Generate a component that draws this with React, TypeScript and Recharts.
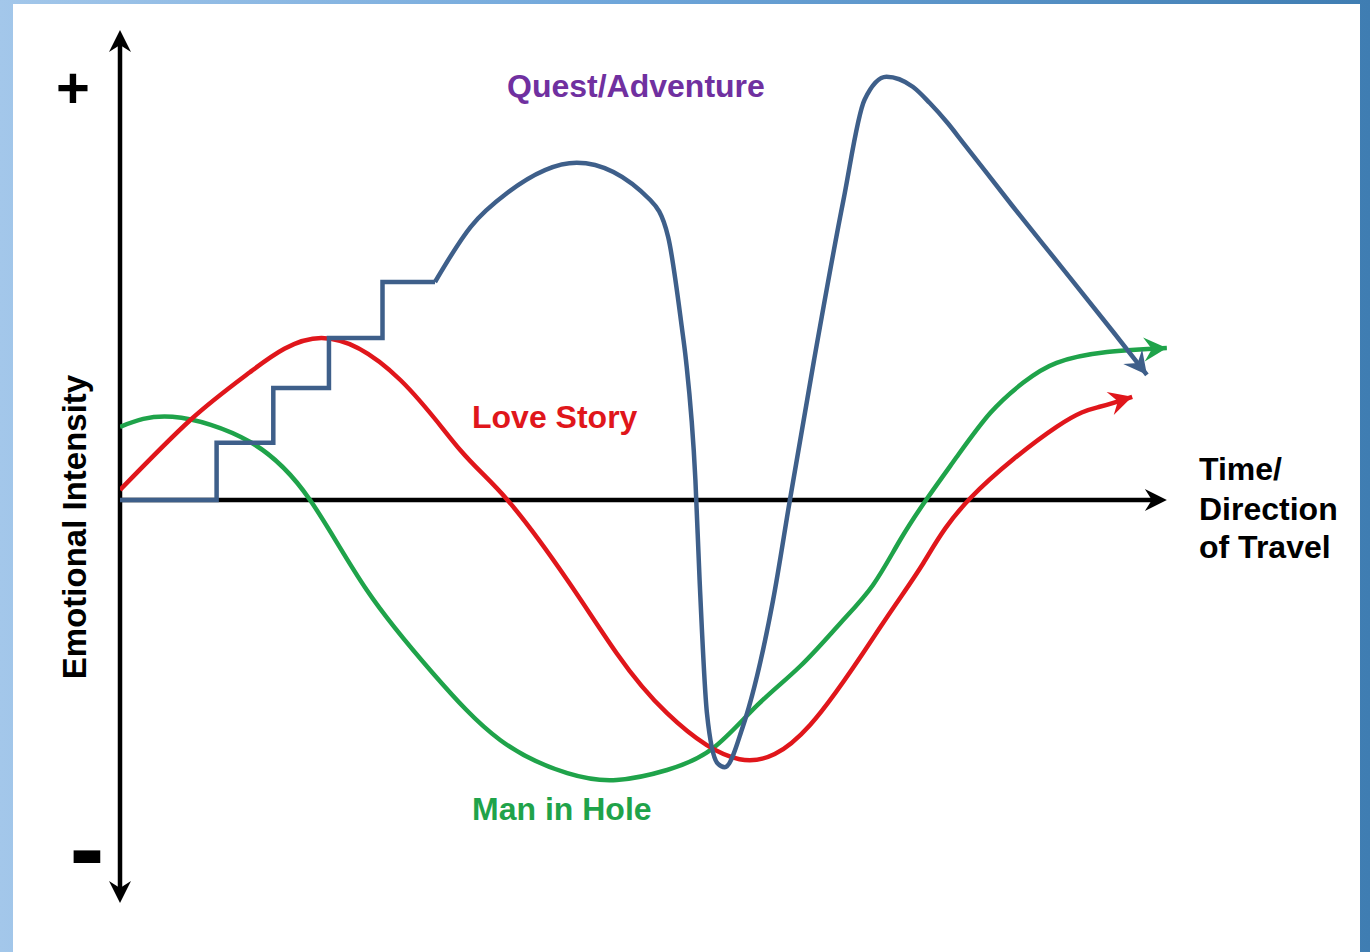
import React from 'react';
import { LineChart, Line, XAxis, YAxis, ReferenceLine } from 'recharts';

type Pt = { t: number; v: number };

// t = time along the x axis (0..100), v = emotional intensity (0 sits on the time axis)
const loveStory: Pt[] = [
  { t: 0, v: 2.5 }, { t: 6.7, v: 20 }, { t: 12.4, v: 32 }, { t: 19.2, v: 40.5 },
  { t: 26.7, v: 30 }, { t: 32.4, v: 12.5 }, { t: 36.9, v: 0 }, { t: 42.6, v: -20 },
  { t: 47.3, v: -38.3 }, { t: 52.1, v: -53.3 }, { t: 59, v: -64.8 }, { t: 65.7, v: -56.3 },
  { t: 72.4, v: -31.8 }, { t: 76.5, v: -15.8 }, { t: 81, v: 0.5 }, { t: 89.2, v: 18.3 },
  { t: 93.3, v: 23.3 }, { t: 96.4, v: 25.8 },
];

const manInHole: Pt[] = [
  { t: 0, v: 18.3 }, { t: 5, v: 20.8 }, { t: 12.4, v: 14.5 }, { t: 18.1, v: 0 },
  { t: 23.5, v: -22.5 }, { t: 29.8, v: -43.3 }, { t: 36.2, v: -60 }, { t: 42.6, v: -68.3 },
  { t: 47.3, v: -70 }, { t: 52.1, v: -67.5 }, { t: 56.5, v: -62 }, { t: 60.7, v: -51.3 },
  { t: 64.8, v: -41.5 }, { t: 68.6, v: -30.8 }, { t: 71.7, v: -21.3 }, { t: 74.3, v: -10 },
  { t: 76.9, v: 0.5 }, { t: 79.7, v: 10.8 }, { t: 82.9, v: 21.8 }, { t: 86, v: 29.3 },
  { t: 89.2, v: 34.3 }, { t: 94, v: 37 }, { t: 99.7, v: 38 },
];

// the staircase start of the quest, then its smooth arc
const questSteps: Pt[] = [
  { t: 0, v: 0 }, { t: 9.2, v: 0 }, { t: 9.2, v: 14.3 }, { t: 14.6, v: 14.3 },
  { t: 14.6, v: 28 }, { t: 19.9, v: 28 }, { t: 19.9, v: 40.5 }, { t: 25, v: 40.5 },
  { t: 25, v: 54.5 }, { t: 30, v: 54.5 },
];

const questArc: Pt[] = [
  { t: 30, v: 54.5 }, { t: 33.4, v: 68.3 }, { t: 36.9, v: 76.8 }, { t: 43.5, v: 84.3 },
  { t: 50.5, v: 75 }, { t: 52.2, v: 65.8 }, { t: 53.5, v: 43.3 }, { t: 53.9, v: 35 },
  { t: 54.8, v: 5 }, { t: 55.2, v: -20 }, { t: 55.9, v: -53.3 }, { t: 56.9, v: -65.8 },
  { t: 57.6, v: -66.8 }, { t: 59.3, v: -56.8 }, { t: 62.2, v: -25 }, { t: 63.8, v: 0 },
  { t: 66.1, v: 35 }, { t: 68.9, v: 75 }, { t: 70.9, v: 100 }, { t: 73, v: 105.8 },
  { t: 75.5, v: 103.3 }, { t: 77.1, v: 99.3 }, { t: 78.8, v: 94.3 }, { t: 80.3, v: 89.3 },
  { t: 85, v: 73.5 }, { t: 89.8, v: 57.8 }, { t: 94.6, v: 42 }, { t: 97.8, v: 31.3 },
];

const timeDomain = [0, 100];
const intensityDomain = [-100.75, 117.5];
const timeAxisEnd = 99.7;

const RED = '#E0161B';
const GREEN = '#1FA34A';
const BLUE = '#3E5F8A';
const PURPLE = '#7030A0';
const FONT = '"Liberation Sans", Arial, sans-serif';

function headPoints(x1: number, y1: number, x2: number, y2: number, len = 23, half = 12, notch = 8) {
  const dx = x2 - x1;
  const dy = y2 - y1;
  const d = Math.hypot(dx, dy) || 1;
  const ux = dx / d;
  const uy = dy / d;
  const nx = -uy;
  const ny = ux;
  const pts = [
    [x2, y2],
    [x2 - len * ux + half * nx, y2 - len * uy + half * ny],
    [x2 - (len - notch) * ux, y2 - (len - notch) * uy],
    [x2 - len * ux - half * nx, y2 - len * uy - half * ny],
  ];
  return pts.map((p) => p.join(',')).join(' ');
}

const arrowShape = (color: string) => (p: any) => (
  <polygon points={headPoints(p.x1, p.y1, p.x2, p.y2)} fill={color} />
);

const axisShape = (both: boolean) => (p: any) => {
  const { x1, y1, x2, y2 } = p;
  const d = Math.hypot(x2 - x1, y2 - y1) || 1;
  const ux = (x2 - x1) / d;
  const uy = (y2 - y1) / d;
  const cut = 14;
  return (
    <g>
      <line
        x1={both ? x1 + ux * cut : x1}
        y1={both ? y1 + uy * cut : y1}
        x2={x2 - ux * cut}
        y2={y2 - uy * cut}
        stroke="#000"
        strokeWidth={4.5}
      />
      <polygon points={headPoints(x1, y1, x2, y2, 22, 11, 7)} fill="#000" />
      {both && <polygon points={headPoints(x2, y2, x1, y1, 22, 11, 7)} fill="#000" />}
    </g>
  );
};

const lastTwo = (s: Pt[]) => [
  { x: s[s.length - 2].t, y: s[s.length - 2].v },
  { x: s[s.length - 1].t, y: s[s.length - 1].v },
];

export default function App() {
  return (
    <div
      style={{
        position: 'absolute',
        left: 0,
        top: 0,
        width: 1370,
        height: 952,
        background: 'linear-gradient(to right, #A3C7EA 0%, #6FA6DA 45%, #3F7DB2 100%)',
        overflow: 'hidden',
      }}
    >
      <div style={{ position: 'absolute', left: 13, top: 4, width: 1347, height: 948, background: '#fff' }} />
      <div style={{ position: 'absolute', left: 0, top: 0 }}>
        <LineChart width={1370} height={952} margin={{ top: 30, right: 200, bottom: 49, left: 120 }}>
          <XAxis type="number" dataKey="t" domain={timeDomain} allowDataOverflow hide />
          <YAxis type="number" domain={intensityDomain} allowDataOverflow hide />
          <ReferenceLine
            segment={[{ x: 0, y: intensityDomain[0] }, { x: 0, y: intensityDomain[1] }]}
            ifOverflow="visible"
            shape={axisShape(true)}
          />
          <ReferenceLine
            segment={[{ x: 0, y: 0 }, { x: timeAxisEnd, y: 0 }]}
            ifOverflow="visible"
            shape={axisShape(false)}
          />
          <Line data={manInHole} dataKey="v" type="natural" stroke={GREEN} strokeWidth={4.5} dot={false} activeDot={false} isAnimationActive={false} />
          <Line data={loveStory} dataKey="v" type="natural" stroke={RED} strokeWidth={4.5} dot={false} activeDot={false} isAnimationActive={false} />
          <Line data={questSteps} dataKey="v" type="linear" stroke={BLUE} strokeWidth={4.5} dot={false} activeDot={false} isAnimationActive={false} />
          <Line data={questArc} dataKey="v" type="monotone" stroke={BLUE} strokeWidth={4.5} dot={false} activeDot={false} isAnimationActive={false} />
          <ReferenceLine segment={lastTwo(manInHole)} ifOverflow="visible" shape={arrowShape(GREEN)} />
          <ReferenceLine segment={lastTwo(loveStory)} ifOverflow="visible" shape={arrowShape(RED)} />
          <ReferenceLine segment={lastTwo(questArc)} ifOverflow="visible" shape={arrowShape(BLUE)} />
        </LineChart>
      </div>
      <svg
        width={1370}
        height={952}
        style={{ position: 'absolute', left: 0, top: 0, pointerEvents: 'none' }}
        fontFamily={FONT}
        fontWeight="bold"
      >
        <text x={73} y={108} fontSize={58} textAnchor="middle" fill="#000">+</text>
        <text x={87} y={884} fontSize={105} textAnchor="middle" fill="#000">-</text>
        <text x={86} y={527} fontSize={33} textAnchor="middle" fill="#000" transform="rotate(-90, 86, 527)">
          Emotional Intensity
        </text>
        <text x={507} y={97} fontSize={32} fill={PURPLE}>Quest/Adventure</text>
        <text x={472} y={428} fontSize={32} fill={RED}>Love Story</text>
        <text x={472} y={820} fontSize={32} fill={GREEN}>Man in Hole</text>
        <text x={1199} y={480} fontSize={32} fill="#000">Time/</text>
        <text x={1199} y={520} fontSize={32} fill="#000">Direction</text>
        <text x={1199} y={558} fontSize={32} fill="#000">of Travel</text>
      </svg>
    </div>
  );
}
